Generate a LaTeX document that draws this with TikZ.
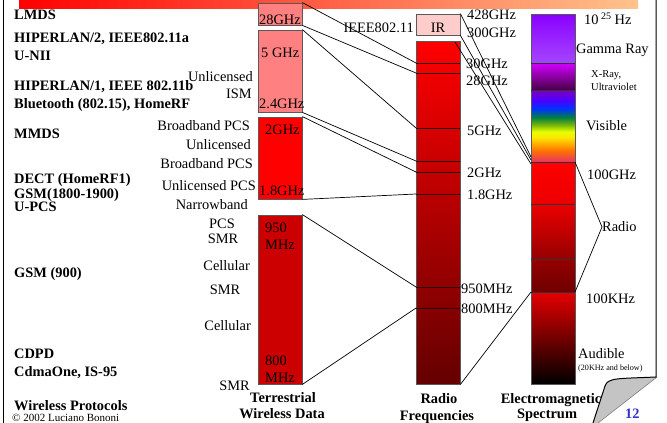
\documentclass[tikz,border=0pt]{standalone}
\usepackage{fontspec}
\setmainfont{Liberation Serif}
\definecolor{lr}{HTML}{FF8080}
\definecolor{rtwo}{HTML}{FF0000}
\definecolor{rnine}{HTML}{CC0000}
\definecolor{irc}{HTML}{FFCCCC}
\definecolor{bandline}{HTML}{2A0000}
\definecolor{pagenum}{HTML}{3333CC}
\definecolor{curlgray}{HTML}{C4C4C4}
\pgfdeclareverticalshading{visspec}{100bp}{rgb(0bp)=(0.9,0.2,0.4); rgb(25bp)=(0.9,0.2,0.4); rgb(33bp)=(1,0.45,0); rgb(42bp)=(1,0.9,0); rgb(46bp)=(0.9,1,0); rgb(51bp)=(0.45,0.7,0.05); rgb(56bp)=(0,0.5,0.25); rgb(62bp)=(0,0.2,1); rgb(68bp)=(0.3,0,1); rgb(75bp)=(0.5,0,0.75); rgb(100bp)=(0.5,0,0.75)}
\tikzset{
  lab/.style={inner sep=0pt, font=\fontsize{14.4}{16}\selectfont},
  blab/.style={inner sep=0pt, font=\fontsize{14.4}{16}\selectfont\bfseries},
  bandbox/.style={draw=black!65, line width=0.8pt, inner sep=0pt, minimum width=44pt},
  conn/.style={draw=black, line width=0.7pt},
  sep/.style={draw=bandline, line width=0.9pt},
}
\begin{document}
\begin{tikzpicture}[x=1pt,y=-1pt]
\useasboundingbox (0,0) rectangle (667,423);
\fill[white] (0,0) rectangle (667,423);
% top bar and frame
\shade[left color=red, right color={rgb,255:red,255;green,195;blue,140}] (19,0) rectangle (638,8);
\draw[line width=1pt] (3,0) -- (3,423);

% ---------- column 1: terrestrial wireless data
\node[bandbox, fill=lr, minimum height=22pt] (b28) at (280,14) {};
\node[bandbox, fill=lr, minimum height=82pt] (b5) at (280,71) {};
\node[bandbox, fill=rtwo, minimum height=82pt] (b2) at (280,158) {};
\node[bandbox, fill=rnine, minimum height=169pt] (b9) at (280,299.5) {};
\node[lab, anchor=base west] (t28) at (259,24) {28GHz};
\node[lab, anchor=base west] (t5) at (261,57) {5 GHz};
\node[lab, anchor=base west] (t24) at (259,108) {2.4GHz};
\node[lab, anchor=base west] (t2) at (265,134) {2GHz};
\node[lab, anchor=base west] (t18) at (259,195) {1.8GHz};
\node[lab, anchor=base west] (t950) at (265,232) {950};
\node[lab, anchor=base west] (t950b) at (265,249) {MHz};
\node[lab, anchor=base west] (t800) at (265,365) {800};
\node[lab, anchor=base west] (t800b) at (265,382) {MHz};

% ---------- column 2: radio frequencies
\node[bandbox, fill=irc, minimum height=21pt] (ir) at (438,24.5) {};
\node[lab, anchor=base] (irt) at (438,32) {IR};
\node[bandbox, shade, top color=red, bottom color={rgb,255:red,100;green,0;blue,0}, minimum height=343pt] (rf) at (438,212.5) {};
\coordinate (r30) at (416,63);   \coordinate (r30e) at (460,63);
\coordinate (r28) at (416,73);   \coordinate (r28e) at (460,73);
\coordinate (r5) at (416,128);   \coordinate (r5e) at (460,128);
\coordinate (r24) at (416,161);  \coordinate (r24e) at (460,161);
\coordinate (r2) at (416,172);   \coordinate (r2e) at (460,172);
\coordinate (r18) at (416,194);  \coordinate (r18e) at (460,194);
\coordinate (r950) at (416,287); \coordinate (r950e) at (460,287);
\coordinate (r800) at (416,308); \coordinate (r800e) at (460,308);
\foreach \a in {r30,r28,r5,r24,r2,r18,r950,r800}{\draw[sep] (\a) -- (\a e);}
\coordinate (rftop) at (455,42);

% ---------- column 3: electromagnetic spectrum
\shade[top color={rgb,255:red,138;green,0;blue,255}, bottom color={rgb,255:red,165;green,70;blue,255}] (531,14) rectangle (575,63);
\shade[top color={rgb,255:red,210;green,0;blue,255}, bottom color={rgb,255:red,70;green,0;blue,70}] (531,63) rectangle (575,90);
\shade[shading=visspec] (531,90) rectangle (575,162);
\shade[top color=red, bottom color={rgb,255:red,235;green,0;blue,0}] (531,162) rectangle (575,204);
\shade[top color={rgb,255:red,235;green,0;blue,0}, bottom color={rgb,255:red,150;green,0;blue,0}] (531,204) rectangle (575,259);
\shade[top color={rgb,255:red,150;green,0;blue,0}, bottom color={rgb,255:red,110;green,0;blue,0}] (531,259) rectangle (575,292);
\shade[top color={rgb,255:red,230;green,0;blue,0}, bottom color=black] (531,292) rectangle (575,384);
\node[draw=black!65, line width=0.8pt, inner sep=0pt, minimum width=44pt, minimum height=370pt] (em) at (553,199) {};
\coordinate (e63) at (531,63);   \coordinate (e63e) at (575,63);
\coordinate (e90) at (531,90);   \coordinate (e90e) at (575,90);
\coordinate (e162) at (531,162); \coordinate (e162e) at (575,162);
\coordinate (e204) at (531,204); \coordinate (e204e) at (575,204);
\coordinate (e259) at (531,259); \coordinate (e259e) at (575,259);
\coordinate (e292) at (531,292); \coordinate (e292e) at (575,292);
\foreach \a in {e63,e90,e162,e204,e259,e292}{\draw[sep, draw=black!80] (\a) -- (\a e);}
\coordinate (ea) at (531,157);
\coordinate (eb) at (531,160);
\coordinate (ec) at (531,164);

% ---------- connectors
\draw[conn] (b28.north east) -- (r30);
\draw[conn] (b28.south east) -- (r28);
\draw[conn] (b5.north east) -- (r5);
\draw[conn] (b5.south east) -- (r24);
\draw[conn] (b2.north east) -- (r2);
\draw[conn] (b2.south east) -- (r18);
\draw[conn] (b9.north east) -- (r950);
\draw[conn] (b9.south east) -- (r800);
\draw[conn] (ir.north east) -- (ea);
\draw[conn] (ir.south east) -- (eb);
\draw[conn] (rftop) -- (ec);
\draw[conn] (rf.south east) -- (e292);

% ---------- labels of column 2
\node[lab, anchor=base east] (ieee) at (414,32) {IEEE802.11};
\node[lab, anchor=base west] (f428) at (467,19.5) {428GHz};
\node[lab, anchor=base west] (f300) at (467,37) {300GHz};
\node[lab, anchor=base west] (f30) at (466,68) {30GHz};
\node[lab, anchor=base west] (f28) at (466,85) {28GHz};
\node[lab, anchor=base west] (f5) at (467,135) {5GHz};
\node[lab, anchor=base west] (f2) at (467,177) {2GHz};
\node[lab, anchor=base west] (f18) at (467,199) {1.8GHz};
\node[lab, anchor=base west] (f950) at (461,293) {950MHz};
\node[lab, anchor=base west] (f800) at (461,313) {800MHz};

% ---------- labels of column 3
\node[lab, anchor=base west] (hz) at (584,24) {10\,\raisebox{5pt}{\fontsize{10}{11}\selectfont 25} Hz};
\node[lab, anchor=base west] (gam) at (576,53) {Gamma Ray};
\node[inner sep=0pt, font=\fontsize{10.5}{12}\selectfont, anchor=base west] (xr) at (591,77) {X-Ray,};
\node[inner sep=0pt, font=\fontsize{10.5}{12}\selectfont, anchor=base west] (uv) at (591,90) {Ultraviolet};
\node[lab, anchor=base west] (vis) at (586,130) {Visible};
\node[lab, anchor=base west] (g100) at (587,179) {100GHz};
\node[lab, anchor=west] (radio) at (602,227) {Radio};
\node[lab, anchor=base west] (k100) at (586,303) {100KHz};
\node[lab, anchor=base west] (aud) at (578,358) {Audible};
\node[inner sep=0pt, font=\fontsize{8.1}{9}\selectfont, anchor=base west] (aud2) at (578,370) {(20KHz and below)};
\draw[conn] (e162e) -- (radio.west);
\draw[conn] (e292e) -- (radio.west);

% ---------- labels left of column 1
\node[lab, anchor=base east] (u1) at (253,81.7) {Unlicensed};
\node[lab, anchor=base east] (ism) at (252,98) {ISM};
\node[lab, anchor=base east] (bb1) at (250,130) {Broadband PCS};
\node[lab, anchor=base east] (u2) at (251,149) {Unlicensed};
\node[lab, anchor=base east] (bb2) at (253,168) {Broadband PCS};
\node[lab, anchor=base east] (upcs) at (256,190) {Unlicensed PCS};
\node[lab, anchor=base east] (nb) at (248,209.5) {Narrowband};
\node[lab, anchor=base] (pcs) at (222,228) {PCS};
\node[lab, anchor=base] (smr1) at (223,243) {SMR};
\node[lab, anchor=base east] (cel1) at (250,270) {Cellular};
\node[lab, anchor=base] (smr2) at (225,294) {SMR};
\node[lab, anchor=base east] (cel2) at (251,330) {Cellular};
\node[lab, anchor=base east] (smr3) at (250,390) {SMR};

% ---------- protocols (bold, left)
\node[blab, anchor=base west] (p1) at (14,19.5) {LMDS};
\node[blab, anchor=base west] (p2) at (14,42) {HIPERLAN/2, IEEE802.11a};
\node[blab, anchor=base west] (p3) at (14,60) {U-NII};
\node[blab, anchor=base west] (p4) at (14,90.7) {HIPERLAN/1, IEEE 802.11b};
\node[blab, anchor=base west] (p5) at (14,108) {Bluetooth (802.15), HomeRF};
\node[blab, anchor=base west] (p6) at (14,138) {MMDS};
\node[blab, anchor=base west] (p7) at (14,183) {DECT (HomeRF1)};
\node[blab, anchor=base west] (p8) at (14,198) {GSM(1800-1900)};
\node[blab, anchor=base west] (p9) at (14,211) {U-PCS};
\node[blab, anchor=base west] (p10) at (14,277) {GSM (900)};
\node[blab, anchor=base west] (p11) at (14,358) {CDPD};
\node[blab, anchor=base west] (p12) at (14,376) {CdmaOne, IS-95};
\node[blab, anchor=base west] (p13) at (14,410) {Wireless Protocols};
\node[inner sep=0pt, font=\fontsize{11}{12}\selectfont, anchor=base west] (copy) at (12,421) {\textcopyright{} 2002 Luciano Bononi};

% ---------- column titles
\node[blab, anchor=base] (c1a) at (283,402) {Terrestrial};
\node[blab, anchor=base] (c1b) at (282,418) {Wireless Data};
\node[blab, anchor=base] (c2a) at (439,403) {Radio};
\node[blab, anchor=base] (c2b) at (437,420) {Frequencies};
\node[blab, anchor=base] (c3a) at (551,403) {Electromagnetic};
\node[blab, anchor=base] (c3b) at (547,418.5) {Spectrum};

% ---------- page curl and number
\fill[curlgray] (657,377) .. controls (635,378) and (618,378) .. (612,380) .. controls (607,382) .. (605,386) -- (593,423) -- (598,423) -- cycle;
\draw[black!50, line width=0.6pt] (657,377) -- (598,423);
\draw[line width=1pt] (656,0) -- (656,377) .. controls (635,378) and (618,378) .. (612,380) .. controls (607,382) .. (605,386) -- (593,423);
\node[blab, text=pagenum, anchor=base west] (pnum) at (625,418) {12};
\end{tikzpicture}
\end{document}
